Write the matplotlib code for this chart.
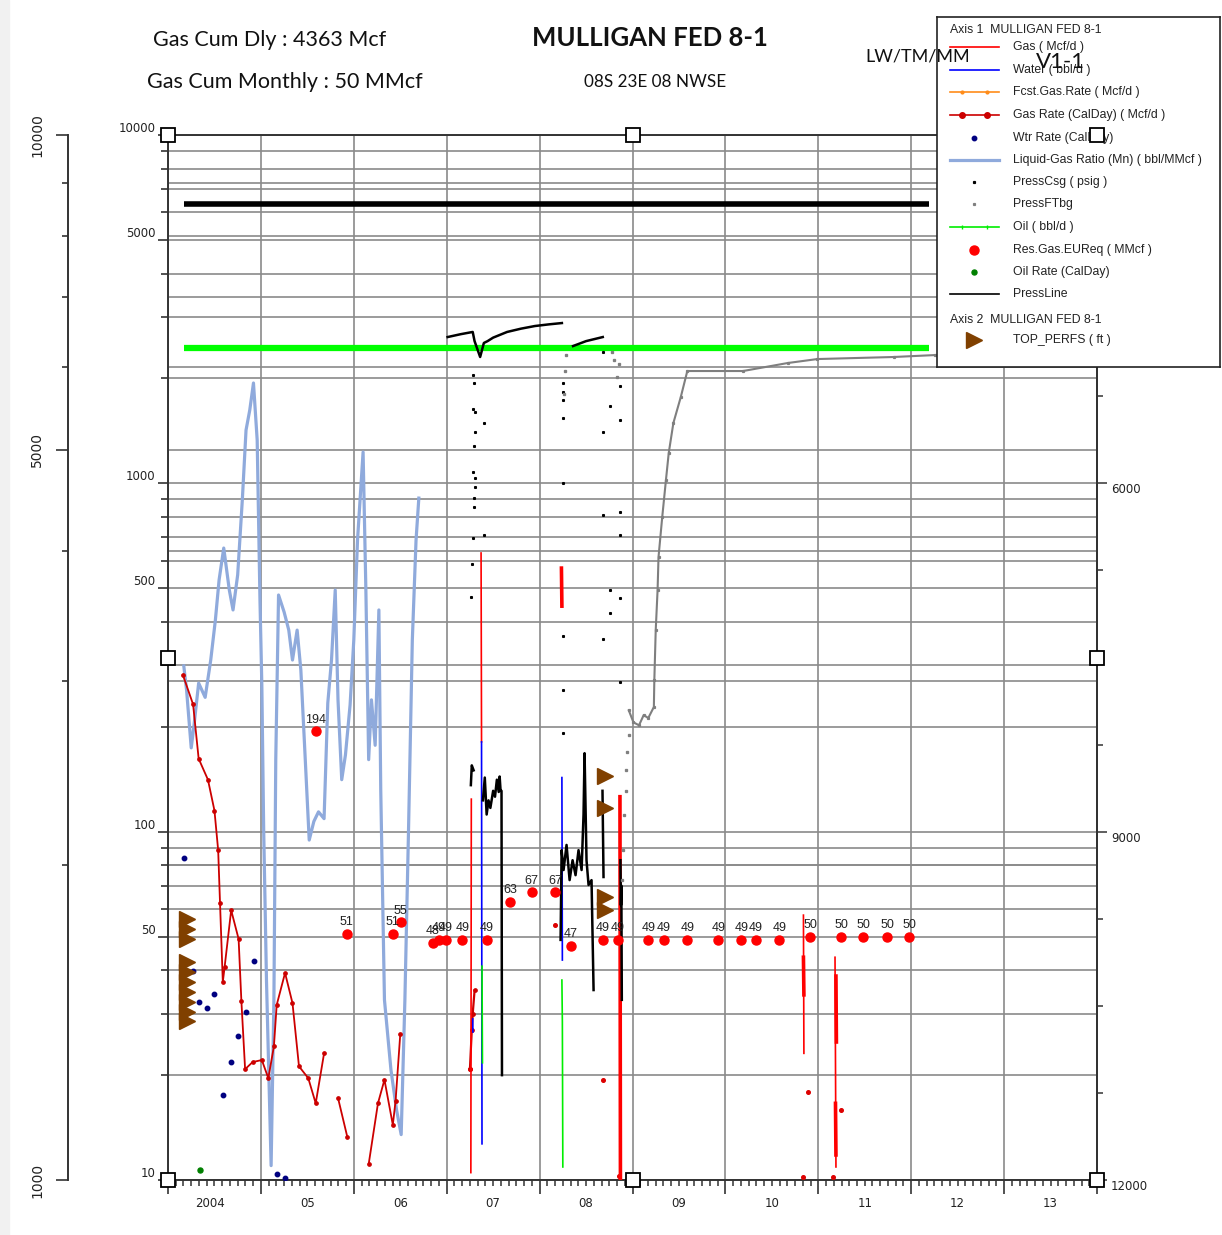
import numpy as np
import matplotlib
matplotlib.use("Agg")
import matplotlib.pyplot as plt
import matplotlib.transforms as mtransforms
from matplotlib.lines import Line2D

nan = np.nan

# ---- data (x in decimal years) ----
press_line_x = [2004.17, 2012.19]
press_line_y = [6340, 6340]
green_line_x = [2004.17, 2012.19]
green_line_y = [2445, 2445]

# Liquid-Gas Ratio (Mn)
lgr_x = [2004.17, 2004.20, 2004.25, 2004.28, 2004.33, 2004.40, 2004.46, 2004.51, 2004.55, 2004.60,
         2004.66, 2004.70, 2004.75, 2004.80, 2004.84, 2004.88, 2004.92, 2004.96, 2004.99, 2005.01,
         2005.03, 2005.06, 2005.11, 2005.14, 2005.16, 2005.19, 2005.25, 2005.30, 2005.34, 2005.39,
         2005.43, 2005.47, 2005.52, 2005.57, 2005.62, 2005.68, 2005.72, 2005.76, 2005.80, 2005.83,
         2005.87, 2005.91, 2005.96, 2006.00, 2006.04, 2006.10, 2006.13, 2006.16, 2006.19, 2006.23,
         2006.27, 2006.29, 2006.33, 2006.40, 2006.46, 2006.51, 2006.55, 2006.59, 2006.63, 2006.67,
         2006.70]
lgr_y = [299, 255, 174, 202, 267, 243, 311, 405, 528, 652,
         494, 433, 546, 896, 1422, 1622, 1941, 1331, 462, 264,
         101, 37.5, 11.0, 32.9, 161, 478, 427, 379, 311, 379,
         291, 177, 94.6, 107, 114, 109, 234, 311, 494, 239,
         141, 166, 231, 355, 687, 1230, 494, 161, 239, 177,
         433, 132, 32.9, 20.7, 15.9, 13.5, 32.9, 104, 355, 687,
         907]

# Gas Rate (CalDay)
gr_x = [2004.16, 2004.27, 2004.33, 2004.43, 2004.50, 2004.54, 2004.56, 2004.59, 2004.61, 2004.68,
        2004.76, 2004.79, 2004.83, 2004.91, 2005.01, 2005.08, 2005.14, 2005.17, 2005.26, 2005.34,
        2005.41, 2005.51, 2005.59, 2005.68, nan, 2005.83, 2005.93, nan, 2006.16, 2006.26,
        2006.33, 2006.42, 2006.45, 2006.50]
gr_y = [282, 232, 162, 141, 115, 88.5, 62.4, 37, 41, 59.5,
        49.2, 32.6, 20.8, 21.8, 22.1, 19.6, 24.2, 31.8, 39.3, 32.2,
        21.2, 19.6, 16.6, 23.1, nan, 17.2, 13.3, nan, 11.1, 16.6,
        19.4, 14.4, 16.9, 26.2]
gr07_x = [2007.25, 2007.27, 2007.28, 2007.30]
gr07_y = [20.8, 27, 30, 35]
gr_pts_x = [2007.25, 2008.17, 2008.68, 2008.85, 2010.83, 2010.89, 2011.16, 2011.24]
gr_pts_y = [20.8, 54, 19.4, 10.3, 10.2, 17.9, 10.2, 15.9]

# Gas (Mcf/d), daily spikes
gas_x = [2007.26, 2007.265, nan, 2007.37, 2007.375, nan, 2010.84, 2010.845, nan, 2011.18, 2011.19]
gas_y = [10.5, 124, nan, 631, 181, nan, 57.6, 23.1, nan, 43.6, 10.9]
gas_thick_x = [2008.235, 2008.24, nan, 2008.865, 2008.87, nan, 2010.84, 2010.845, nan,
               2011.19, 2011.195, nan, 2011.185, 2011.19]
gas_thick_y = [571, 444, nan, 126, 10.1, nan, 43.6, 34.0, nan, 38.5, 24.9, nan, 16.6, 11.8]

# Water (bbl/d)
water_x = [2007.375, 2007.38, nan, 2008.24, 2008.245, nan, 2007.28, 2007.282]
water_y = [181, 12.7, nan, 143, 42.8, nan, 29, 26.6]

# Oil (bbl/d)
oil_x = [2007.38, 2007.385, nan, 2008.24, 2008.245, 2008.25]
oil_y = [41.1, 21.7, nan, 37.5, 28.5, 10.9]

# PressCsg (psig)
csg_x = [2007.01, 2007.15, 2007.28, 2007.30, 2007.36, 2007.40, 2007.44, 2007.50, 2007.65, 2007.80,
         2007.95, 2008.10, 2008.24, nan, 2008.36, 2008.50, 2008.68, nan,
         2007.26, 2007.27, 2007.29, nan, 2007.39, 2007.41, 2007.43, 2007.45, 2007.47, 2007.50,
         2007.52, 2007.54, 2007.56, 2007.57, 2007.58, 2007.59, 2007.595, nan,
         2008.226, 2008.237, 2008.258, 2008.29, 2008.323, 2008.355, 2008.387, 2008.419, 2008.452,
         2008.473, 2008.484, 2008.505, 2008.527, 2008.559, 2008.581, nan, 2008.677, 2008.688, nan,
         2008.87, 2008.875, 2008.88, 2008.885]
csg_y = [2630, 2680, 2720, 2560, 2305, 2529, 2560, 2620, 2720, 2780,
         2829, 2860, 2885, nan, 2478, 2560, 2630, nan,
         136, 155, 150, nan, 123, 143, 112, 123, 117, 131,
         126, 141, 130, 144, 131, 131, 20.0, nan,
         48.9, 88.5, 77.6, 91.6, 72.6, 82.8, 75.0, 88.5, 77.6,
         112, 168, 82.8, 70.3, 72.6, 35.1, nan, 131, 74.1, nan,
         82.8, 61.5, 70, 32.9]
csg_dots_x = [2007.28, 2007.29, 2007.28, 2007.31, 2007.40, 2007.31, 2007.29, 2007.28, 2007.31, 2007.31,
              2007.29, 2007.29, 2007.40, 2007.28, 2007.27, 2007.26, 2008.25, 2008.25, 2008.25, 2008.25,
              2008.25, 2008.25, 2008.25, 2008.25, 2008.68, 2008.68, 2008.68, 2008.68, 2008.76, 2008.76,
              2008.76, 2008.87, 2008.87, 2008.87, 2008.87, 2008.87, 2008.87]
csg_dots_y = [2047, 1941, 1634, 1603, 1490, 1403, 1280, 1077, 1036, 976,
              907, 855, 711, 697, 586, 472, 1941, 1828, 1734, 1540,
              1002, 365, 255, 192, 2382, 1403, 811, 357, 1667, 494,
              424, 1903, 1520, 827, 711, 469, 269]

# PressFTbg
ftbg_x = [2008.96, 2009.01, 2009.07, 2009.12, 2009.17, 2009.23, 2009.235, 2009.25, 2009.27, 2009.28,
          2009.32, 2009.36, 2009.39, 2009.44, 2009.52, 2009.59, 2010.19, 2010.67, 2010.99, 2011.81,
          2012.26, 2014.0]
ftbg_y = [223, 206, 202, 216, 212, 228, 272, 379, 494, 614,
          800, 1022, 1222, 1490, 1770, 2101, 2101, 2215, 2274, 2305,
          2335, 2399]
ftbg_dots_x = [2008.26, 2008.27, 2008.28, 2008.78, 2008.80, 2008.83, 2008.85, 2008.89, 2008.90,
               2008.91, 2008.925, 2008.935, 2008.945, 2008.957]
ftbg_dots_y = [1800, 2100, 2335, 2382, 2265, 2018, 2208, 72.6, 88.5,
               112, 131, 150, 169, 189]

# Res.Gas.EUReq (MMcf)
eur_x = [2005.59, 2005.925, 2006.42, 2006.505, 2006.85, 2006.915, 2006.99, 2007.17, 2007.43,
         2007.68, 2007.915, 2008.17, 2008.335, 2008.68, 2008.84, 2009.17, 2009.335, 2009.59,
         2009.925, 2010.17, 2010.325, 2010.58, 2010.915, 2011.245, 2011.485, 2011.74, 2011.98]
eur_y = [194, 51, 51, 55, 48, 49, 49, 49, 49,
         63, 67, 67, 47, 49, 49, 49, 49, 49,
         49, 49, 49, 49, 50, 50, 50, 50, 50]

# Wtr Rate (CalDay)
wtr_x = [2004.17, 2004.27, 2004.33, 2004.42, 2004.50, 2004.59, 2004.68, 2004.75, 2004.84, 2004.93,
         2005.17, 2005.26]
wtr_y = [84.0, 39.8, 32.4, 31.2, 34.2, 17.5, 21.8, 25.9, 30.3, 42.5, 10.4, 10.1]

# Oil Rate (CalDay)
oilr_x = [2004.345]
oilr_y = [10.7]

# TOP_PERFS (ft), axis 2
perf_x = [2004.20] * 10 + [2008.70] * 4
perf_y = [9752, 9838, 9924, 10122, 10208, 10295, 10381, 10467, 10553, 10631,
          8521, 8796, 9563, 9675]

years = list(range(2004, 2015))
year_labels = ["2004", "05", "06", "07", "08", "09", "10", "11", "12", "13"]
year_label_pos = [2004.45] + [y + 0.5 for y in range(2005, 2014)]

# ---- figure ----
W, H = 1222, 1235
fig = plt.figure(figsize=(W / 100, H / 100), dpi=100)
fig.add_artist(plt.Rectangle((0, 0), 9 / W, 1, transform=fig.transFigure,
                             color="#f1f1f1", zorder=-1))

L, R, T, B = 168, 1097, 135, 1180
ax = fig.add_axes([L / W, 1 - B / H, (R - L) / W, (B - T) / H])
ax.set_yscale("log")
ax.set_xlim(2004.0, 2014.0)
ax.set_ylim(10, 10000)
gc = "#8a8a8a"
ink = "#222222"

# outer left axis (log 1000-10000)
ax_out = ax.twinx()
ax_out.set_yscale("log")
ax_out.set_ylim(1000, 10000)
ax_out.yaxis.set_ticks_position("left")
ax_out.spines["left"].set_position(("outward", 72))
ax_out.spines["left"].set_visible(True)
for s in ["right", "top", "bottom"]:
    ax_out.spines[s].set_visible(False)
ax_out.spines["left"].set_color("#333333")
ax_out.spines["left"].set_linewidth(1.4)
ax_out.set_yticks([1000, 5000, 10000], labels=["1000", "5000", "10000"])
ax_out.set_yticks([2000, 3000, 4000, 6000, 7000, 8000, 9000], minor=True)
ax_out.yaxis.set_minor_formatter(plt.NullFormatter())
ax_out.tick_params(axis="y", which="major", length=9, width=1.2, pad=8, labelsize=10,
                   labelrotation=90, colors="#333333", labelcolor=ink)
ax_out.tick_params(axis="y", which="minor", length=4.5, width=1.2, colors="#333333")
for lab in ax_out.get_yticklabels():
    lab.set_va("center")

# right depth axis
ax_r = ax.twinx()
ax_r.set_ylim(12000, 3000)
ax_r.set_yticks([6000, 9000, 12000], labels=["6000", "9000", "12000"])
ax_r.set_yticks(np.arange(3000, 12001, 750), minor=True)
ax_r.tick_params(axis="y", which="major", length=7, width=1.1, pad=3, labelsize=8.5,
                 colors="#333333", labelcolor=ink)
ax_r.tick_params(axis="y", which="minor", length=4, width=1.1, colors="#333333")
for lab in ax_r.get_yticklabels():
    lab.set_va("top")
for s in ["left", "top", "bottom"]:
    ax_r.spines[s].set_visible(False)
ax_r.spines["right"].set_color("#333333")
ax_r.spines["right"].set_linewidth(1.4)

# primary ticks and grid
ax.set_yticks([10, 50, 100, 500, 1000, 5000, 10000],
              labels=["10", "50", "100", "500", "1000", "5000", "10000"])
minor_y = [m * d for d in (10, 100, 1000) for m in range(2, 10) if m != 5]
ax.set_yticks(minor_y, minor=True)
ax.yaxis.set_minor_formatter(plt.NullFormatter())
ax.tick_params(axis="y", which="major", length=7, width=1.2, pad=2, labelsize=8.5,
               colors="#333333", labelcolor=ink)
ax.tick_params(axis="y", which="minor", length=5, width=1.2, colors="#333333")
for lab in ax.get_yticklabels():
    lab.set_va("bottom")

ax.set_xticks(years)
ax.set_xticks(np.arange(2004, 2014, 1 / 12), minor=True)
ax.tick_params(axis="x", which="major", length=10, width=1.2, labelbottom=False, colors="#333333")
ax.tick_params(axis="x", which="minor", length=4, width=1.1, colors="#333333")
sec = ax.secondary_xaxis("bottom")
sec.set_xticks(year_label_pos, labels=year_labels)
sec.tick_params(length=0, pad=12, labelsize=8.5, labelcolor=ink)
sec.spines["bottom"].set_visible(False)

ax.set_axisbelow(True)
ax.grid(True, which="both", axis="y", color=gc, lw=1.2)
ax.grid(True, which="major", axis="x", color=gc, lw=1.2)
blend = mtransforms.blended_transform_factory(ax.transAxes, ax_out.transData)
for v in [2000, 3000, 4000, 5000, 6000, 7000, 8000, 9000]:
    ax.add_line(Line2D([0, 1], [v, v], transform=blend, color=gc, lw=1.2, zorder=0.6))
for s in ax.spines.values():
    s.set_color("#333333")
    s.set_linewidth(1.4)

# ---- series ----
ax.plot(press_line_x, press_line_y, color="black", lw=4, solid_capstyle="butt", zorder=3)
ax.plot(green_line_x, green_line_y, color="#00ff00", lw=4.5, solid_capstyle="butt", zorder=3)
ax.plot(lgr_x, lgr_y, color="#8faadc", lw=2.3, zorder=2)
ax.plot(gr_x, gr_y, color="#cc0000", lw=1.3, marker="o", ms=2.4, zorder=4)
ax.plot(gr07_x, gr07_y, color="#cc0000", lw=1.6, marker="o", ms=2.4, zorder=4)
ax.plot(gr_pts_x, gr_pts_y, ls="none", color="#dd0000", marker="o", ms=2.6, zorder=4)
ax.plot(gas_x, gas_y, color="#ff0000", lw=1.2, zorder=4)
ax.plot(gas_thick_x, gas_thick_y, color="#ff0000", lw=2.6, zorder=4)
ax.plot(water_x, water_y, color="#0000ff", lw=1.2, zorder=4)
ax.plot(oil_x, oil_y, color="#00ee00", lw=1.2, zorder=4)
ax.plot(csg_x, csg_y, color="black", lw=1.8, zorder=5)
ax.plot(csg_dots_x, csg_dots_y, ls="none", color="black", marker="s", ms=1.2, zorder=5)
ax.plot(ftbg_x, ftbg_y, color="#7f7f7f", lw=1.5, marker="s", ms=1.3, zorder=5)
ax.plot(ftbg_dots_x, ftbg_dots_y, ls="none", color="#7f7f7f", marker="s", ms=1.4, zorder=5)
ax.plot(wtr_x, wtr_y, ls="none", color="#000080", marker="o", ms=3.2, zorder=5)
ax.plot(oilr_x, oilr_y, ls="none", color="#008000", marker="o", ms=3.6, zorder=5)
ax.plot(eur_x, eur_y, ls="none", color="#ff0000", marker="o", ms=6.5, zorder=6)
for xv, yv in zip(eur_x, eur_y):
    ax.annotate(f"{yv:g}", (xv, yv), xytext=(0, 4), textcoords="offset points",
                ha="center", va="bottom", fontsize=9, color=ink,
                family="Liberation Sans", zorder=7)
ax_r.plot(perf_x, perf_y, ls="none", marker=">", ms=11, color="#804000", zorder=6)

# selection handles
for hx, hy in [(0, 1), (0.5, 1), (1, 1), (0, 0.5), (1, 0.5), (0, 0), (0.5, 0), (1, 0)]:
    fig.add_artist(Line2D([hx], [hy], transform=ax.transAxes, marker="s", ms=9.5,
                          mfc="white", mec="black", mew=1.3, zorder=8))

# ---- header text ----
hdr = "Lato"
fig.text(270 / W, 1 - 40 / H, "Gas Cum Dly : 4363 Mcf", ha="center", va="center",
         fontsize=15.5, family=hdr, color="#111111")
fig.text(285 / W, 1 - 82 / H, "Gas Cum Monthly : 50 MMcf", ha="center", va="center",
         fontsize=15.5, family=hdr, color="#111111")
fig.text(650 / W, 1 - 38 / H, "MULLIGAN FED 8-1", ha="center", va="center",
         fontsize=18.5, family=hdr, weight="bold", color="#111111")
fig.text(655 / W, 1 - 82 / H, "08S 23E 08 NWSE", ha="center", va="center",
         fontsize=12.3, family=hdr, color="#111111")
fig.text(918 / W, 1 - 57 / H, "LW/TM/MM", ha="center", va="center",
         fontsize=13, family=hdr, color="#111111", zorder=9)
fig.text(1060 / W, 1 - 62 / H, "V1-1", ha="center", va="center",
         fontsize=16, family=hdr, color="#111111", zorder=9)

# ---- legend box ----
lg = fig.add_axes([937 / W, 1 - 367 / H, 283 / W, 350 / H], zorder=5)
lg.set_xlim(937, 1220)
lg.set_ylim(367, 17)
lg.set_xticks([])
lg.set_yticks([])
for s in lg.spines.values():
    s.set_color("#222222")
    s.set_linewidth(1.2)
lf = dict(fontsize=8.8, family="Liberation Sans", color=ink, va="center", clip_on=True)
lg.text(950, 30, "Axis 1  MULLIGAN FED 8-1", **lf)
lg.text(950, 320, "Axis 2  MULLIGAN FED 8-1", **lf)
rows = ["Gas ( Mcf/d )", "Water ( bbl/d )", "Fcst.Gas.Rate ( Mcf/d )",
        "Gas Rate (CalDay) ( Mcf/d )", "Wtr Rate (CalDay)", "Liquid-Gas Ratio (Mn) ( bbl/MMcf )",
        "PressCsg ( psig )", "PressFTbg", "Oil ( bbl/d )", "Res.Gas.EUReq ( MMcf )",
        "Oil Rate (CalDay)", "PressLine", "TOP_PERFS ( ft )"]
row_y = [47, 70, 92, 115, 138, 160, 182, 204, 227, 250, 272, 294, 340]
for txt, yy in zip(rows, row_y):
    lg.text(1013, yy, txt, **lf)
lx = [950, 999]
lg.plot(lx, [47, 47], color="#ff0000", lw=1.2)
lg.plot(lx, [70, 70], color="#0000ff", lw=1.2)
lg.plot(lx, [92, 92], color="#ff8c1a", lw=1.2)
lg.plot([962, 987], [92, 92], ls="none", marker="o", ms=2, color="#ff8c1a")
lg.plot(lx, [115, 115], color="#cc0000", lw=1.2)
lg.plot([962, 987], [115, 115], ls="none", marker="o", ms=4, color="#cc0000")
lg.plot([974], [138], marker="o", ms=3.2, color="#000080")
lg.plot(lx, [160, 160], color="#8faadc", lw=2.3)
lg.plot([974], [182], marker="s", ms=1.3, color="black")
lg.plot([974], [204], marker="s", ms=1.3, color="#7f7f7f")
lg.plot(lx, [227, 227], color="#00ee00", lw=1.2)
lg.plot([962, 987], [227, 227], ls="none", marker="|", ms=3, color="#00ee00")
lg.plot([974], [250], marker="o", ms=6.5, color="#ff0000")
lg.plot([974], [272], marker="o", ms=3.6, color="#008000")
lg.plot(lx, [294, 294], color="black", lw=1.2)
lg.plot([974], [340], marker=">", ms=11, color="#804000")

fig.savefig("out.png", dpi=100)
